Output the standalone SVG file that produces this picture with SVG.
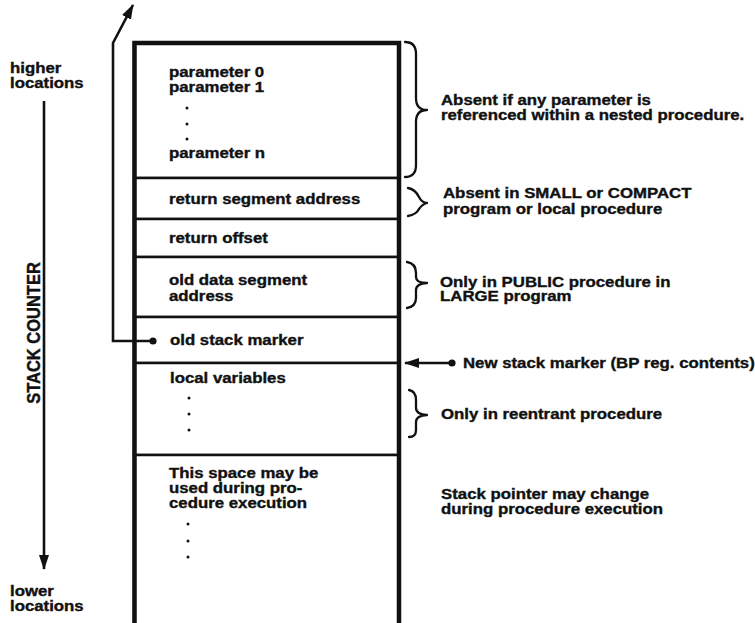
<svg xmlns="http://www.w3.org/2000/svg" width="755" height="623" viewBox="0 0 755 623">
<style>
.t{font-family:"Liberation Sans",Arial,Helvetica,sans-serif;font-weight:bold;font-size:14px;fill:#111;stroke:#111;stroke-width:0.35}
.cell{fill:#fff;stroke:#111;stroke-width:2.5}
.frame{fill:none;stroke:#111;stroke-width:4.5}
.brace{fill:none;stroke:#111;stroke-width:2.3;stroke-linecap:round;stroke-linejoin:round}
.conn{fill:none;stroke:#111;stroke-width:2.6}
.dot{fill:#111}
</style>
<defs>
<marker id="arrow" markerUnits="userSpaceOnUse" markerWidth="18" markerHeight="12" refX="14" refY="5" orient="auto">
<path d="M0,0 L15,5 L0,10 Z" fill="#111"/>
</marker>
<marker id="dotm" markerUnits="userSpaceOnUse" markerWidth="10" markerHeight="10" refX="5" refY="5" orient="auto">
<circle cx="5" cy="5" r="3.6" fill="#111"/>
</marker>
</defs>
<rect width="755" height="623" fill="#fff"/>

<!-- stack cells -->
<g id="cell-parameters">
<rect class="cell" x="134" y="43" width="265" height="135"/>
<text class="t" transform="translate(169,77) scale(1.2,1)">parameter 0</text>
<text class="t" transform="translate(169,92) scale(1.2,1)">parameter 1</text>
<circle class="dot" cx="187" cy="108" r="1.5"/>
<circle class="dot" cx="187" cy="124" r="1.5"/>
<circle class="dot" cx="187" cy="139" r="1.5"/>
<text class="t" transform="translate(169,158) scale(1.2,1)">parameter n</text>
</g>
<g id="cell-return-segment">
<rect class="cell" x="134" y="178" width="265" height="41"/>
<text class="t" transform="translate(169,204) scale(1.2,1)">return segment address</text>
</g>
<g id="cell-return-offset">
<rect class="cell" x="134" y="219" width="265" height="38"/>
<text class="t" transform="translate(169,243) scale(1.2,1)">return offset</text>
</g>
<g id="cell-old-data-segment">
<rect class="cell" x="134" y="257" width="265" height="60"/>
<text class="t" transform="translate(169,285) scale(1.2,1)">old data segment</text>
<text class="t" transform="translate(169,301) scale(1.2,1)">address</text>
</g>
<g id="cell-old-stack-marker">
<rect class="cell" x="134" y="317" width="265" height="46"/>
<text class="t" transform="translate(170,345) scale(1.2,1)">old stack marker</text>
</g>
<g id="cell-local-variables">
<rect class="cell" x="134" y="363" width="265" height="92"/>
<text class="t" transform="translate(170,383) scale(1.2,1)">local variables</text>
<circle class="dot" cx="189" cy="398" r="1.5"/>
<circle class="dot" cx="189" cy="414" r="1.5"/>
<circle class="dot" cx="189" cy="430" r="1.5"/>
</g>
<g id="cell-free-space">
<rect class="cell" x="134" y="455" width="265" height="180"/>
<text class="t" transform="translate(169,478) scale(1.2,1)">This space may be</text>
<text class="t" transform="translate(169,493) scale(1.2,1)">used during pro-</text>
<text class="t" transform="translate(169,508) scale(1.2,1)">cedure execution</text>
<circle class="dot" cx="188" cy="524" r="1.5"/>
<circle class="dot" cx="188" cy="541" r="1.5"/>
<circle class="dot" cx="188" cy="557" r="1.5"/>
</g>
<g id="stack-frame">
<path class="frame" d="M134.5,640 L134.5,43 L399,43 L399,640"/>
</g>

<!-- annotations -->
<g id="note-parameters">
<path class="brace" d="M405,42 C412,42 416,46 416,54 L416,98 C416,106 420,110 427,110 C420,110 416,114 416,122 L416,165 C416,173 412,177 405,177"/>
<text class="t" transform="translate(441,105) scale(1.2,1)">Absent if any parameter is</text>
<text class="t" transform="translate(441,120) scale(1.2,1)">referenced within a nested procedure.</text>
</g>
<g id="note-return-segment">
<path class="brace" d="M408,188 C414,189 417,193 419,197 C421,201 423,203 427,203 C423,204 421,206 419,209 C417,213 414,215 408,216"/>
<text class="t" transform="translate(443,198) scale(1.2,1)">Absent in SMALL or COMPACT</text>
<text class="t" transform="translate(443,214) scale(1.2,1)">program or local procedure</text>
</g>
<g id="note-old-data-segment">
<path class="brace" d="M407,262 C413,263 416,267 416,273 L416,277 C416,281 420,283 427,283 C420,283 416,286 416,290 L416,298 C416,304 413,307 407,308"/>
<text class="t" transform="translate(440,287) scale(1.2,1)">Only in PUBLIC procedure in</text>
<text class="t" transform="translate(440,301) scale(1.2,1)">LARGE program</text>
</g>
<g id="note-new-stack-marker">
<text class="t" transform="translate(463,368) scale(1.2,1)">New stack marker (BP reg. contents)</text>
</g>
<g id="note-local-variables">
<path class="brace" d="M409,390 C414,391 416,395 416,400 L416,408 C416,412 420,415 427,415 C420,415 416,418 416,422 L416,430 C416,434 414,437 409,437"/>
<text class="t" transform="translate(441,419) scale(1.2,1)">Only in reentrant procedure</text>
</g>
<g id="note-stack-pointer">
<text class="t" transform="translate(441,499) scale(1.2,1)">Stack pointer may change</text>
<text class="t" transform="translate(441,514) scale(1.2,1)">during procedure execution</text>
</g>
<g id="label-higher">
<text class="t" transform="translate(10,73) scale(1.2,1)">higher</text>
<text class="t" transform="translate(10,88) scale(1.2,1)">locations</text>
</g>
<g id="label-lower">
<text class="t" transform="translate(10,596) scale(1.2,1)">lower</text>
<text class="t" transform="translate(10,611) scale(1.2,1)">locations</text>
</g>
<g id="label-stack-counter">
<text class="t" text-anchor="middle" style="font-size:16.5px" transform="translate(40,333) rotate(-90) scale(1,1.15)">STACK COUNTER</text>
</g>

<!-- connectors -->
<g id="connectors">
<path class="conn" d="M44,101 L44,569" marker-end="url(#arrow)"/>
<path class="conn" d="M153,341 L113,341 L113,43 L133,5" marker-start="url(#dotm)" marker-end="url(#arrow)"/>
<path class="conn" d="M452,363 L405,363" marker-start="url(#dotm)" marker-end="url(#arrow)"/>
</g>
</svg>
